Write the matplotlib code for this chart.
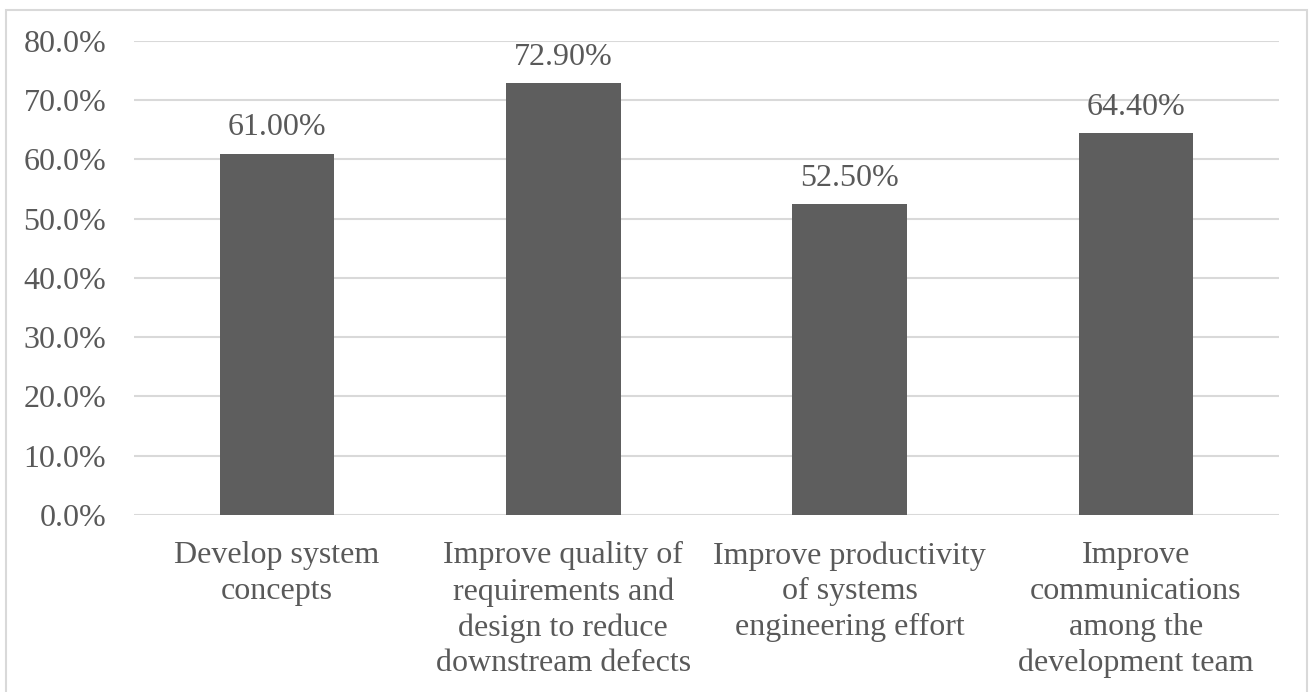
import matplotlib
matplotlib.use("Agg")
import matplotlib.pyplot as plt
from matplotlib.patches import Rectangle
from matplotlib.ticker import FuncFormatter

# Share of respondents per expected benefit
categories = [
    "Develop system\nconcepts",
    "Improve quality of\nrequirements and\ndesign to reduce\ndownstream defects",
    "Improve productivity\nof systems\nengineering effort",
    "Improve\ncommunications\namong the\ndevelopment team",
]
shares = [0.610, 0.729, 0.525, 0.644]
y_ticks = [0.0, 0.1, 0.2, 0.3, 0.4, 0.5, 0.6, 0.7, 0.8]

TEXT = "#595959"
GRID = "#d9d9d9"
BAR = "#5e5e5e"
FS = 23

plt.rcParams["font.family"] = ["Liberation Serif", "DejaVu Serif"]

fig = plt.figure(figsize=(13.12, 6.92), dpi=100)
ax = fig.add_axes([0.1021, 0.2558, 0.8727, 0.685])

x = range(len(categories))
bars = ax.bar(x, shares, width=0.4, color=BAR, zorder=3)

for b, v in zip(bars, shares):
    ax.annotate(f"{v * 100:.2f}%", (b.get_x() + b.get_width() / 2, v),
                xytext=(0, 8), textcoords="offset points",
                ha="center", va="bottom", fontsize=FS, color=TEXT)

ax.set_xlim(-0.5, len(categories) - 0.5)
ax.set_ylim(0, 0.8)
ax.set_yticks(y_ticks)
ax.yaxis.set_major_formatter(FuncFormatter(lambda v, _: f"{v * 100:.1f}%"))
ax.set_xticks(list(x))
ax.set_xticklabels(categories, linespacing=1.3)

ax.tick_params(axis="y", length=0, pad=20, labelsize=FS, labelcolor=TEXT)
ax.tick_params(axis="x", length=0, pad=19, labelsize=FS, labelcolor=TEXT)

ax.grid(axis="y", color=GRID, linewidth=1.5, zorder=0)
for s in ax.spines.values():
    s.set_visible(False)

# light frame around the chart area
fig.patches.append(Rectangle((6 / 1312, -0.01), 1301 / 1312, 1 - 10 / 692 + 0.01,
                             transform=fig.transFigure, fill=False,
                             edgecolor=GRID, linewidth=1.5))

fig.savefig("out.png", dpi=100)
